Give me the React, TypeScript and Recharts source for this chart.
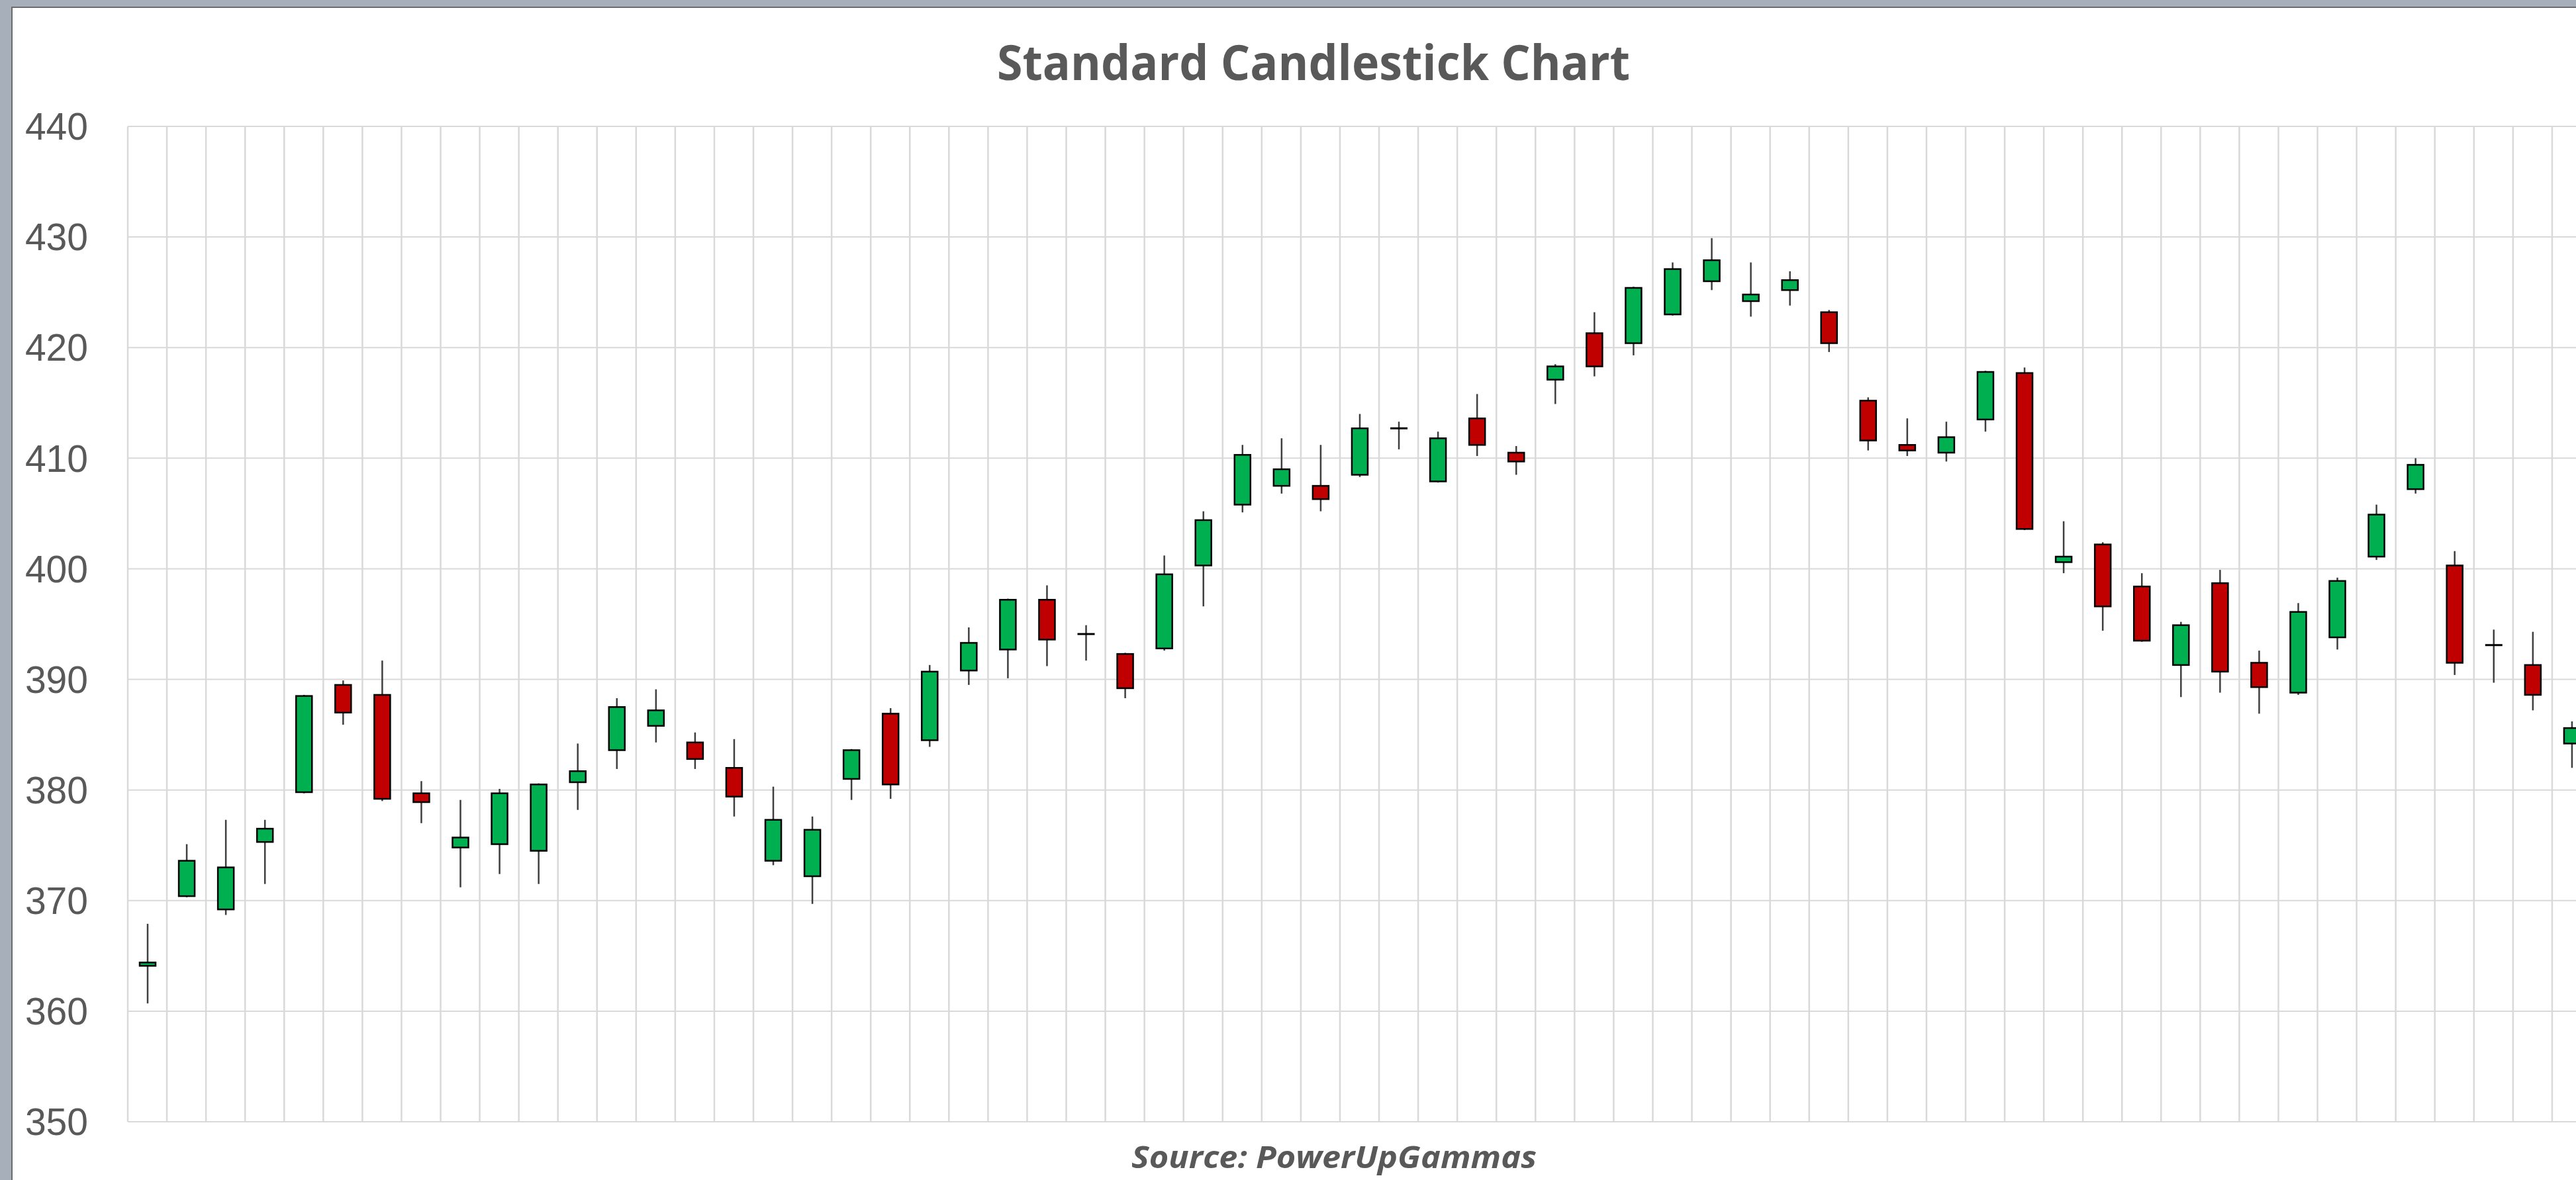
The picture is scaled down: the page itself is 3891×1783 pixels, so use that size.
import React from 'react';
import { ComposedChart, Bar, XAxis, YAxis, CartesianGrid } from 'recharts';

// OHLC values, one entry per trading session
const opens = [
  364.1, 370.4, 369.2, 375.3, 379.8, 389.5, 388.6, 379.7, 374.8, 375.1,
  374.5, 380.7, 383.6, 385.8, 384.3, 382.0, 373.6, 372.2, 381.0, 386.9,
  384.5, 390.8, 392.7, 397.2, 394.1, 392.3, 392.8, 400.3, 405.8, 407.5,
  407.5, 408.5, 412.7, 407.9, 413.6, 410.5, 417.1, 421.3, 420.4, 423.0,
  426.0, 424.2, 425.2, 423.2, 415.2, 411.2, 410.5, 413.5, 417.7, 400.6,
  402.2, 398.4, 391.3, 398.7, 391.5, 388.8, 393.8, 401.1, 407.2, 400.3,
  393.1, 391.3, 384.2,
];
const closes = [
  364.4, 373.6, 373.0, 376.5, 388.5, 387.0, 379.2, 378.9, 375.7, 379.7,
  380.5, 381.7, 387.5, 387.2, 382.8, 379.4, 377.3, 376.4, 383.6, 380.5,
  390.7, 393.3, 397.2, 393.6, 394.1, 389.2, 399.5, 404.4, 410.3, 409.0,
  406.3, 412.7, 412.7, 411.8, 411.2, 409.7, 418.3, 418.3, 425.4, 427.1,
  427.9, 424.8, 426.1, 420.4, 411.6, 410.7, 411.9, 417.8, 403.6, 401.1,
  396.6, 393.5, 394.9, 390.7, 389.3, 396.1, 398.9, 404.9, 409.4, 391.5,
  393.1, 388.6, 385.6,
];
const highs = [
  367.9, 375.1, 377.3, 377.3, 388.6, 389.9, 391.7, 380.8, 379.1, 380.1,
  380.6, 384.2, 388.3, 389.1, 385.2, 384.6, 380.3, 377.6, 383.7, 387.4,
  391.3, 394.7, 397.3, 398.5, 394.9, 392.4, 401.2, 405.2, 411.2, 411.8,
  411.2, 414.0, 413.3, 412.4, 415.8, 411.1, 418.5, 423.2, 425.5, 427.7,
  429.9, 427.7, 426.9, 423.4, 415.5, 413.6, 413.3, 417.9, 418.2, 404.3,
  402.4, 399.6, 395.2, 399.9, 392.6, 396.9, 399.2, 405.8, 410.0, 401.6,
  394.5, 394.3, 386.2,
];
const lows = [
  360.7, 370.3, 368.7, 371.5, 379.7, 385.9, 379.0, 377.0, 371.2, 372.4,
  371.5, 378.2, 381.9, 384.3, 381.9, 377.6, 373.2, 369.7, 379.1, 379.2,
  383.9, 389.5, 390.1, 391.2, 391.7, 388.3, 392.6, 396.6, 405.1, 406.8,
  405.2, 408.3, 410.8, 407.8, 410.2, 408.5, 414.9, 417.4, 419.3, 422.9,
  425.2, 422.8, 423.8, 419.6, 410.7, 410.2, 409.7, 412.4, 403.5, 399.6,
  394.4, 393.4, 388.4, 388.8, 386.9, 388.6, 392.7, 400.8, 406.8, 390.4,
  389.7, 387.2, 382.0,
];
const days = opens.map((_, i) => `Day ${i + 1}`);
const yTicks = [350, 360, 370, 380, 390, 400, 410, 420, 430, 440];

const UP = '#00B050';
const DOWN = '#C00000';
const TEXT = '#595959';
const GRID = '#D9D9D9';

const rows = days.map((day, i) => ({
  day,
  open: opens[i],
  close: closes[i],
  high: highs[i],
  low: lows[i],
}));

const Candle = (props: any) => {
  const { x, y, width, height, payload } = props;
  const { open, close, high, low } = payload;
  const top = Math.min(y, y + height);
  const bottom = Math.max(y, y + height);
  const k = high > low ? (bottom - top) / (high - low) : 0;
  const py = (v: number) => top + (high - v) * k;
  const cx = x + width / 2;
  const bodyTop = py(Math.max(open, close));
  const bodyBottom = py(Math.min(open, close));
  return (
    <g>
      <line x1={cx} x2={cx} y1={top} y2={bottom} stroke="#3f3f3f" strokeWidth={2.5} />
      {open === close ? (
        <line x1={x - 1} x2={x + width + 1} y1={bodyTop} y2={bodyTop} stroke="#000" strokeWidth={3} />
      ) : (
        <rect
          x={x}
          y={bodyTop}
          width={width}
          height={bodyBottom - bodyTop}
          fill={close > open ? UP : DOWN}
          stroke="#000"
          strokeWidth={2.5}
        />
      )}
    </g>
  );
};

const boundaries = ({ offset }: any) =>
  Array.from({ length: rows.length + 1 }, (_, i) => offset.left + (offset.width * i) / rows.length);

const App: React.FC = () => {
  return (
    <div
      style={{
        position: 'fixed',
        left: 0,
        top: 0,
        width: 3891,
        height: 1783,
        overflow: 'hidden',
        background: '#A6AFBA',
      }}
    >
      <div
        style={{
          position: 'absolute',
          left: 17,
          top: 10,
          width: 4000,
          height: 2000,
          background: '#fff',
          borderLeft: '2px solid #6B6B6B',
          borderTop: '2px solid #6B6B6B',
        }}
      />
      <div style={{ position: 'absolute', left: 0, top: 0 }}>
        <ComposedChart
          width={3914}
          height={1783}
          data={rows}
          margin={{ top: 191, right: 0, bottom: 88, left: 0 }}
        >
          <CartesianGrid vertical={false} stroke={GRID} strokeWidth={2} />
          <CartesianGrid horizontal={false} stroke={GRID} strokeWidth={2.5} verticalCoordinatesGenerator={boundaries} />
          <XAxis dataKey="day" hide />
          <YAxis
            domain={[350, 440]}
            ticks={yTicks}
            interval={0}
            axisLine={false}
            tickLine={false}
            tickSize={0}
            tickMargin={60}
            width={193}
            tick={{ fill: TEXT, fontSize: 57, fontFamily: '"Liberation Sans", Arial, sans-serif' }}
          />
          <Bar
            dataKey={(d: any) => [d.low, d.high]}
            barSize={24}
            shape={<Candle />}
            isAnimationActive={false}
          />
        </ComposedChart>
      </div>
      <svg
        width={3891}
        height={1783}
        style={{ position: 'absolute', left: 0, top: 0, pointerEvents: 'none' }}
      >
        <text
          x={1984}
          y={121}
          textAnchor="middle"
          textLength={956}
          lengthAdjust="spacingAndGlyphs"
          fill={TEXT}
          fontSize={74}
          fontWeight="bold"
          fontFamily='"Open Sans", sans-serif'
        >
          Standard Candlestick Chart
        </text>
        <text
          x={2015}
          y={1765}
          textAnchor="middle"
          textLength={612}
          lengthAdjust="spacingAndGlyphs"
          fill={TEXT}
          fontSize={46}
          fontWeight="bold"
          fontStyle="italic"
          fontFamily='"Open Sans", sans-serif'
        >
          Source: PowerUpGammas
        </text>
      </svg>
    </div>
  );
};

export default App;
